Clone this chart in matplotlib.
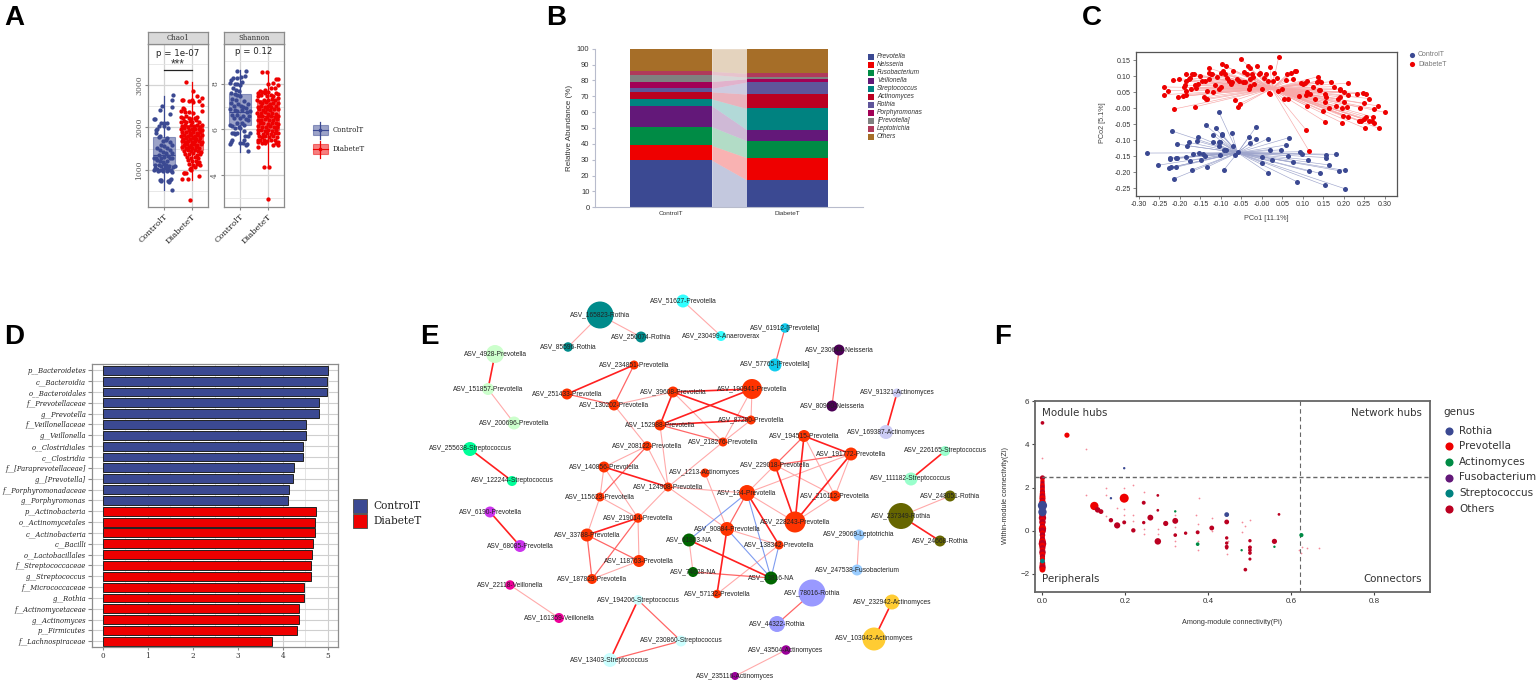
import numpy as np
import matplotlib
matplotlib.use('Agg')
import matplotlib.pyplot as plt
from matplotlib.patches import Rectangle

plt.rcParams['font.family'] = ['Liberation Sans', 'DejaVu Sans']

W, H = 1536, 682
BLUE = '#3B4992'
RED = '#EE0000'

# ---- panel A data: (jitter, value)
groups = ['ControlT', 'DiabeteT']
chao_control = [(0.31,2765),(0.3,2640),(-0.06,2500),(-0.15,2420),(0.28,2480),(0.2,2310),(-0.36,2210),(-0.33,2200),(-0.2,2030),
    (-0.25,1960),(-0.3,1950),(-0.1,2100),(-0.02,2110),(0.12,2110),(0.0,2040),(0.15,1980),(-0.28,1880),(-0.15,1800),(-0.2,1770),
    (0.12,1750),(0.05,1700),(-0.05,1680),(0.2,1650),(0.3,1600),(-0.1,1600),(0.0,1560),(-0.27,1520),(0.1,1520),(0.22,1470),
    (-0.15,1460),(-0.05,1420),(0.05,1400),(0.28,1400),(-0.2,1350),(0.15,1340),(-0.35,1280),(-0.3,1290),(-0.1,1280),(0.0,1300),
    (0.2,1280),(0.3,1290),(-0.25,1230),(-0.15,1210),(-0.05,1190),(0.1,1210),(-0.32,1120),(-0.2,1130),(-0.12,1100),(0,1150),
    (0.07,1120),(0.18,1100),(0.33,1080),(0.38,1090),(-0.33,1040),(-0.25,1030),(-0.35,990),(-0.15,1010),(-0.05,1020),(0.05,1040),
    (0.15,1020),(0.25,1000),(0.3,960),(-0.22,980),(-0.05,980),(0.1,970),(0.2,990),(-0.15,770),(-0.12,750),(-0.1,760),(0.15,750),
    (0.2,760),(0.25,780),(0.18,730),(0.3,540)]
chao_diabete = [(-0.2,3060),(0.05,2860),(0.2,2740),(0.38,2690),(-0.35,2640),(-0.32,2640),(-0.1,2620),(0.0,2640),(0.05,2600),
    (0.25,2620),(0.38,2520),(-0.33,2450),(-0.27,2430),(-0.38,2380),(-0.25,2370),(-0.1,2360),(0.05,2350),(0.35,2380),(-0.4,2250),
    (-0.33,2220),(-0.22,2260),(-0.12,2230),(-0.03,2210),(0.1,2230),(0.2,2240),(-0.38,2130),(-0.3,2160),(-0.2,2130),(-0.08,2150),
    (0.02,2120),(0.14,2170),(0.26,2130),(0.36,2060),(-0.36,2040),(-0.25,2060),(-0.15,2020),(-0.03,2050),(0.08,2030),(0.2,2060),
    (0.3,2000),(-0.39,1960),(-0.28,1980),(-0.12,1950),(0.0,1970),(0.12,1960),(0.24,1970),(0.37,1940),(-0.34,1890),(-0.22,1900),
    (-0.08,1880),(0.05,1900),(0.18,1880),(0.3,1900),(-0.39,1800),(-0.27,1830),(-0.15,1810),(-0.02,1820),(0.1,1800),(0.22,1830),
    (0.36,1820),(-0.33,1740),(-0.2,1760),(-0.08,1730),(0.04,1750),(0.16,1740),(0.29,1750),(-0.37,1680),(-0.26,1670),(-0.13,1690),
    (0.0,1660),(0.12,1680),(0.25,1690),(0.35,1660),(-0.3,1600),(-0.18,1610),(-0.05,1590),(0.07,1610),(0.2,1590),(0.32,1610),
    (-0.35,1530),(-0.22,1520),(-0.1,1540),(0.02,1510),(0.14,1530),(0.27,1520),(-0.28,1450),(-0.15,1460),(-0.02,1440),(0.1,1460),
    (0.22,1450),(0.33,1430),(-0.24,1380),(-0.1,1370),(0.04,1390),(0.17,1360),(0.28,1380),(-0.18,1300),(-0.04,1290),(0.1,1310),
    (0.22,1280),(-0.15,1230),(0.0,1220),(0.14,1210),(0.26,1200),(-0.1,1140),(0.03,1130),(0.2,1150),(0.28,1120),(-0.05,1060),
    (0.1,1080),(-0.08,1020),(-0.02,1000),(-0.3,920),(-0.27,920),(-0.2,930),(-0.35,800),(-0.15,780),(0.25,870),(-0.07,300)]
shannon_control = [(-0.1,8.55),(0.2,8.55),(0.17,8.35),(0.02,8.3),(-0.25,8.25),(-0.12,8.25),(-0.38,8.05),(-0.32,8.15),(0.05,8.1),
    (-0.2,8.0),(-0.1,8.0),(-0.02,7.95),(-0.27,7.8),(-0.15,7.75),(-0.05,7.7),(-0.32,7.6),(-0.2,7.55),(-0.1,7.5),(0.0,7.45),
    (-0.3,7.35),(-0.15,7.3),(0.15,7.25),(0.3,7.1),(-0.33,7.15),(-0.22,7.05),(-0.08,7.1),(0.02,7.05),(0.12,7.0),(0.22,6.95),
    (-0.35,6.9),(-0.2,6.85),(-0.1,6.8),(0.05,6.85),(0.25,6.75),(0.35,6.8),(-0.3,6.65),(-0.12,6.65),(0.1,6.6),(0.33,6.6),
    (-0.22,6.5),(0.0,6.5),(0.2,6.45),(0.3,6.4),(-0.37,6.2),(-0.28,6.15),(-0.1,6.3),(0.05,6.3),(0.15,6.2),(-0.05,6.1),(-0.2,6.05),
    (0.0,6.05),(-0.3,5.85),(-0.22,5.85),(-0.2,5.82),(-0.13,5.85),(0.15,5.95),(0.35,5.85),(0.18,5.7),(0.28,5.7),(0.14,5.55),
    (-0.3,5.55),(-0.32,5.45),(-0.36,5.35),(0.1,5.4),(0.22,5.3),(0.25,5.38),(0.0,5.4),(0.3,5.05)]
shannon_diabete = [(-0.2,8.5),(-0.05,8.5),(0.3,8.2),(0.35,8.2),(0.2,8.05),(0.02,8.0),(0.38,7.95),(-0.1,7.75),(0.12,7.8),(0.25,7.8),
    (-0.3,7.7),(-0.37,7.6),(-0.22,7.65),(-0.12,7.6),(0.0,7.65),(0.3,7.6),(0.38,7.55),(-0.34,7.45),(-0.25,7.5),(-0.05,7.45),(0.1,7.5),
    (0.2,7.45),(0.35,7.4),(-0.38,7.3),(-0.15,7.3),(0.02,7.3),(0.14,7.32),(0.27,7.28),(-0.3,7.2),(-0.2,7.15),(-0.08,7.2),(0.06,7.12),
    (0.2,7.15),(0.36,7.15),(-0.37,7.0),(-0.24,7.02),(-0.12,7.0),(0.0,7.05),(0.12,7.0),(0.28,7.03),(-0.32,6.88),(-0.18,6.85),(-0.05,6.9),
    (0.08,6.85),(0.22,6.88),(0.35,6.9),(-0.38,6.72),(-0.26,6.72),(-0.12,6.75),(0.02,6.7),(0.16,6.72),(0.3,6.7),(-0.32,6.58),(-0.2,6.6),
    (-0.05,6.55),(0.1,6.58),(0.24,6.55),(0.37,6.6),(-0.37,6.42),(-0.24,6.4),(-0.1,6.45),(0.04,6.42),(0.18,6.4),(0.32,6.45),(-0.3,6.28),
    (-0.16,6.3),(0.0,6.25),(0.14,6.28),(0.28,6.3),(0.38,6.25),(-0.35,6.15),(-0.22,6.12),(-0.06,6.1),(0.08,6.15),(0.22,6.12),(0.34,6.1),
    (-0.37,5.98),(-0.26,5.98),(-0.12,5.95),(0.02,5.98),(0.15,5.95),(0.3,5.98),(-0.36,5.85),(-0.18,5.82),(-0.05,5.85),(0.1,5.8),(0.25,5.85),
    (0.37,5.85),(-0.33,5.7),(-0.22,5.68),(-0.1,5.7),(0.04,5.65),(0.18,5.7),(0.32,5.65),(-0.37,5.55),(-0.28,5.55),(-0.14,5.55),(-0.05,5.5),
    (0.12,5.55),(0.26,5.55),(-0.36,5.45),(-0.2,5.42),(-0.1,5.42),(0.35,5.45),(0.3,5.4),(-0.35,5.25),(0.17,5.3),(0.37,5.32),(-0.15,4.35),
    (0.05,4.35),(0.0,2.93)]
# whislo, q1, med, q3, whishi
chao_box = [(540, 1130, 1360, 1773, 2750), (770, 1480, 1800, 2060, 3060)]
shannon_box = [(5.0, 6.19, 6.78, 7.54, 8.62), (4.32, 5.99, 6.57, 7.29, 8.52)]

# ---- panel B data
genera = ['Prevotella', 'Neisseria', 'Fusobacterium', 'Veillonella', 'Streptococcus', 'Actinomyces', 'Rothia',
          'Porphyromonas', '[Prevotella]', 'Leptotrichia', 'Others']
abund_control = [29.7, 9.3, 11.8, 13.2, 4.3, 4.5, 2.2, 4.3, 4.4, 2.0, 14.3]
abund_diabete = [17.3, 14.0, 10.7, 7.0, 13.3, 9.1, 7.6, 2.0, 1.0, 2.5, 15.5]
genus_colors = ['#3B4992', '#EE0000', '#008B45', '#631879', '#008280', '#BB0021', '#5F559B', '#A20056', '#808180',
                '#B03A5B', '#A66E28']

# ---- panel C data
pcoa_control = [(-0.105,-0.012),(-0.137,-0.053),(-0.113,-0.063),(-0.014,-0.058),(-0.220,-0.071),(-0.120,-0.083),(-0.098,-0.080),
    (-0.098,-0.084),(-0.073,-0.078),(-0.155,-0.089),(-0.032,-0.090),(-0.015,-0.095),(0.015,-0.095),(0.066,-0.092),(-0.159,-0.102),
    (-0.177,-0.107),(-0.182,-0.117),(-0.120,-0.107),(-0.104,-0.106),(-0.102,-0.105),(-0.105,-0.119),(-0.070,-0.118),(-0.028,-0.108),
    (0.059,-0.115),(0.020,-0.129),(0.046,-0.130),(-0.093,-0.130),(-0.088,-0.132),(-0.207,-0.112),(-0.280,-0.140),(-0.169,-0.142),
    (-0.154,-0.139),(-0.144,-0.144),(-0.138,-0.150),(-0.186,-0.151),(-0.224,-0.155),(-0.224,-0.158),(-0.209,-0.155),(-0.206,-0.157),
    (-0.102,-0.146),(-0.066,-0.145),(-0.058,-0.136),(0.001,-0.151),(0.065,-0.148),(0.093,-0.136),(0.099,-0.143),(0.156,-0.146),
    (0.157,-0.154),(0.182,-0.144),(-0.176,-0.164),(-0.149,-0.163),(-0.253,-0.178),(-0.226,-0.186),(-0.223,-0.185),(-0.209,-0.184),
    (-0.134,-0.184),(-0.170,-0.192),(-0.093,-0.193),(0,-0.170),(0.024,-0.162),(0.077,-0.169),(0.112,-0.161),(0.163,-0.177),
    (0.114,-0.197),(0.141,-0.203),(0.188,-0.195),(0.202,-0.194),(0.015,-0.202),(-0.214,-0.220),(0.085,-0.229),(0.154,-0.241),(0.202,-0.251)]
pcoa_diabete = [(-0.24,0.042),(-0.238,0.066),(-0.229,0.055),(-0.218,0.088),(-0.204,0.036),(-0.202,0.092),(-0.192,0.038),(-0.186,0.042),
    (-0.185,0.053),(-0.19,0.065),(-0.187,0.072),(-0.185,0.085),(-0.184,0.105),(-0.178,0.09),(-0.175,0.095),(-0.174,0.06),(-0.17,0.108),
    (-0.165,0.105),(-0.163,0.072),(-0.16,0.062),(-0.155,0.075),(-0.152,0.10),(-0.146,0.085),(-0.14,0.085),(-0.142,0.035),(-0.137,0.03),
    (-0.133,0.027),(-0.134,0.053),(-0.128,0.09),(-0.129,0.125),(-0.125,0.107),(-0.13,0.11),(-0.121,0.108),(-0.12,0.05),(-0.115,0.073),
    (-0.11,0.098),(-0.105,0.06),(-0.1,0.065),(-0.1,0.11),(-0.098,0.137),(-0.095,0.115),(-0.09,0.105),(-0.088,0.13),(-0.084,0.095),
    (-0.08,0.085),(-0.075,0.075),(-0.072,0.08),(-0.07,0.115),(-0.065,0.025),(-0.06,0.09),(-0.056,0.085),(-0.057,0.005),(-0.054,0.014),
    (-0.05,0.152),(-0.046,0.08),(-0.044,0.112),(-0.04,0.08),(-0.036,0.105),(-0.033,0.13),(-0.03,0.125),(-0.032,0.06),(-0.03,0.07),
    (-0.028,0.09),(-0.025,0.105),(-0.022,0.098),(-0.02,0.075),(-0.012,0.132),(-0.007,0.105),(-0.004,0.11),(0.0,0.06),(0.005,0.095),
    (0.01,0.108),(0.014,0.085),(0.018,0.047),(0.021,0.127),(0.028,0.085),(0.03,0.11),(0.038,0.095),(0.041,0.158),(0.04,0.055),(0.05,0.06),
    (0.054,0.028),(0.06,0.088),(0.062,0.105),(0.065,0.029),(0.07,0.11),(0.075,0.09),(0.08,0.115),(0.083,0.116),(0.09,0.038),(0.095,0.078),
    (0.1,0.075),(0.105,0.078),(0.11,0.085),(0.11,0.05),(0.108,0.04),(0.11,0.007),(0.118,0.045),(0.125,0.065),(0.13,0.028),(0.135,0.083),
    (0.14,0.085),(0.136,0.098),(0.14,0.058),(0.145,0.08),(0.143,0.058),(0.15,-0.01),(0.155,-0.043),(0.155,0.045),(0.157,0.034),(0.155,0.02),
    (0.165,-0.001),(0.17,0.083),(0.175,0.067),(0.182,0.006),(0.185,0.03),(0.19,0.06),(0.19,0.035),(0.192,0.058),(0.195,0.002),(0.195,-0.045),
    (0.198,-0.025),(0.2,0.05),(0.2,0.02),(0.21,0.04),(0.21,0.078),(0.208,0.005),(0.21,-0.028),(0.233,0.045),(0.238,-0.04),(0.243,-0.04),
    (0.24,0.002),(0.25,-0.035),(0.255,-0.028),(0.248,0.048),(0.255,0.043),(0.25,0.015),(0.252,-0.063),(0.262,0.03),(0.262,-0.04),(0.27,-0.04),
    (0.272,-0.028),(0.273,-0.045),(0.275,-0.002),(0.283,0.007),(0.286,-0.063),(0.3,-0.013),(0.108,-0.068),(0.115,-0.133),(-0.215,-0.003),
    (-0.163,0.004),(0.02,0.045)]
centroid_control = (-0.059, -0.139)
centroid_diabete = (0.024, 0.061)

# ---- panel D data
lda_taxa = ['p__Bacteroidetes', 'c__Bacteroidia', 'o__Bacteroidales', 'f__Prevotellaceae', 'g__Prevotella', 'f__Veillonellaceae',
            'g__Veillonella', 'o__Clostridiales', 'c__Clostridia', 'f__[Paraprevotellaceae]', 'g__[Prevotella]',
            'f__Porphyromonadaceae', 'g__Porphyromonas', 'p__Actinobacteria', 'o__Actinomycetales', 'c__Actinobacteria',
            'c__Bacilli', 'o__Lactobacillales', 'f__Streptococcaceae', 'g__Streptococcus', 'f__Micrococcaceae', 'g__Rothia',
            'f__Actinomycetaceae', 'g__Actinomyces', 'p__Firmicutes', 'f__Lachnospiraceae']
lda_scores = [5.0, 4.98, 4.98, 4.80, 4.80, 4.53, 4.51, 4.45, 4.45, 4.25, 4.22, 4.14, 4.13,
              4.74, 4.73, 4.73, 4.67, 4.66, 4.63, 4.62, 4.48, 4.48, 4.36, 4.36, 4.33, 3.77]
lda_n_control = 13

# ---- panel E data: label, x, y, diameter, colour
PREV = '#FF3300'
net_nodes = [
    ('ASV_165823-Rothia', 600, 315, 27, '#008B8B'), ('ASV_250074-Rothia', 641, 337, 11, '#008B8B'),
    ('ASV_85596-Rothia', 568, 347, 9.5, '#008B8B'), ('ASV_51627-Prevotella', 683, 301, 13, '#33FFFF'),
    ('ASV_230499-Anaeroverax', 721, 336, 10, '#33FFFF'), ('ASV_61912-[Prevotella]', 785, 328, 9.5, '#11CCEE'),
    ('ASV_57765-[Prevotella]', 775, 365, 13, '#11CCEE'), ('ASV_230644-Neisseria', 839, 350, 11, '#4B0055'),
    ('ASV_80950-Neisseria', 832, 406, 11, '#4B0055'), ('ASV_91321-Actinomyces', 897, 393, 9, '#CCCCF5'),
    ('ASV_169387-Actinomyces', 886, 432, 14, '#CCCCF5'), ('ASV_226165-Streptococcus', 945, 451, 10, '#99FFCC'),
    ('ASV_111182-Streptococcus', 911, 479, 13, '#99FFCC'), ('ASV_4928-Prevotella', 495, 354, 18, '#CCFFCC'),
    ('ASV_151857-Prevotella', 488, 389, 12, '#CCFFCC'), ('ASV_200696-Prevotella', 514, 423, 13, '#CCFFCC'),
    ('ASV_255638-Streptococcus', 470, 449, 14, '#00FF99'), ('ASV_122244-Streptococcus', 512, 481, 10, '#00FF99'),
    ('ASV_6190-Prevotella', 490, 512, 11, '#CC33EE'), ('ASV_68085-Prevotella', 520, 546, 12, '#CC33EE'),
    ('ASV_22118-Veillonella', 510, 585, 9.5, '#EE0099'), ('ASV_161359-Veillonella', 559, 618, 10, '#EE0099'),
    ('ASV_194206-Streptococcus', 638, 600, 10, '#CCFFFF'), ('ASV_230860-Streptococcus', 681, 641, 11, '#CCFFFF'),
    ('ASV_13403-Streptococcus', 610, 660, 14, '#CCFFFF'), ('ASV_43504-Actinomyces', 786, 650, 9.5, '#990099'),
    ('ASV_235116-Actinomyces', 735, 676, 8, '#990099'), ('ASV_44322-Rothia', 777, 624, 16, '#9999FF'),
    ('ASV_78016-Rothia', 812, 593, 27, '#9999FF'), ('ASV_232942-Actinomyces', 892, 602, 15, '#FFCC33'),
    ('ASV_103042-Actinomyces', 874, 639, 23, '#FFCC33'), ('ASV_29069-Leptotrichia', 859, 535, 11, '#99CCFF'),
    ('ASV_247538-Fusobacterium', 857, 570, 11, '#99CCFF'), ('ASV_237349-Rothia', 901, 516, 26, '#666600'),
    ('ASV_248051-Rothia', 950, 496, 11, '#666600'), ('ASV_24668-Rothia', 940, 541, 11, '#666600'),
    ('ASV_234851-Prevotella', 634, 365, 9, PREV), ('ASV_251433-Prevotella', 567, 394, 11, PREV),
    ('ASV_130202-Prevotella', 614, 405, 11, PREV), ('ASV_39608-Prevotella', 673, 392, 11, PREV),
    ('ASV_190941-Prevotella', 752, 389, 20, PREV), ('ASV_87280-Prevotella', 751, 420, 9, PREV),
    ('ASV_152988-Prevotella', 660, 425, 11, PREV), ('ASV_218276-Prevotella', 723, 442, 9, PREV),
    ('ASV_208122-Prevotella', 647, 446, 9.5, PREV), ('ASV_140856-Prevotella', 604, 467, 11, PREV),
    ('ASV_194515-Prevotella', 804, 436, 12, PREV), ('ASV_191772-Prevotella', 851, 454, 13, PREV),
    ('ASV_229018-Prevotella', 775, 465, 13, PREV), ('ASV_1213-Actinomyces', 705, 473, 9, PREV),
    ('ASV_124908-Prevotella', 668, 487, 9, PREV), ('ASV_115623-Prevotella', 600, 497, 9, PREV),
    ('ASV_219014-Prevotella', 638, 518, 9.5, PREV), ('ASV_33788-Prevotella', 587, 535, 13, PREV),
    ('ASV_118763-Prevotella', 639, 561, 12, PREV), ('ASV_187829-Prevotella', 592, 579, 10, PREV),
    ('ASV_124-Prevotella', 747, 493, 16, PREV), ('ASV_216112-Prevotella', 835, 496, 11, PREV),
    ('ASV_228243-Prevotella', 795, 522, 21, PREV), ('ASV_90884-Prevotella', 727, 529, 14, PREV),
    ('ASV_138342-Prevotella', 779, 545, 9, PREV), ('ASV_57132-Prevotella', 717, 594, 8.5, PREV),
    ('ASV_61803-NA', 689, 540, 13, '#006600'), ('ASV_74628-NA', 693, 572, 10, '#006600'), ('ASV_13816-NA', 771, 578, 13, '#006600'),
]
net_strong = [(234851,251433),(91321,169387),(226165,111182),(4928,151857),(255638,122244),(6190,68085),(194206,13403),
    (232942,103042),(237349,24668),(39608,190941),(39608,152988),(39608,87280),(152988,190941),(152988,87280),
    (140856,124908),(33788,219014),(194515,191772),(194515,228243),(191772,228243),(229018,228243),(124,138342),(90884,57132),
    (61803,13816)]
net_medium = [(61912,57765),(230644,80950),(230860,13403),(44322,78016),(194206,230860),(234851,130202),(251433,130202),(152988,218276),
    (33788,118763),(33788,187829),(219014,187829),(194515,229018),(191772,229018),(124,90884),(74628,13816),(208122,115623)]
net_light = [(165823,250074),(165823,85596),(51627,230499),(151857,200696),(22118,161359),(43504,235116),(29069,247538),(237349,248051),
    (130202,39608),(130202,208122),(39608,218276),(152988,124908),(190941,87280),(190941,218276),(87280,218276),(218276,124908),
    (208122,124908),(208122,140856),(140856,115623),(115623,219014),(124908,219014),(140856,219014),(115623,33788),(219014,118763),
    (118763,187829),(124908,124),(124908,90884),(1213,90884),(194515,216112),(191772,124),(191772,216112),(229018,124),(229018,216112),
    (124,228243),(90884,138342),(138342,57132),(61803,74628),(216112,228243)]
net_negative = [(124,61803),(124,13816),(90884,13816),(138342,13816)]

# ---- panel F data
zipi_genus = ['Rothia', 'Prevotella', 'Actinomyces', 'Fusobacterium', 'Streptococcus', 'Others']
zipi_colors = ['#3B4992', '#EE0000', '#008B45', '#631879', '#008280', '#BB0021']
# Zi of the peripheral column, Pi = 0
zi_column = [2.45, 2.3, 2.2, 2.1, 2.0, 1.9, 1.8, 1.7, 1.6, 1.5, 1.4, 1.3, 1.2, 1.1, 1.0, 0.9, 0.8, 0.7, 0.6, 0.5, 0.4, 0.3, 0.2,
             0.1, 0.0, -0.1, -0.2, -0.3, -0.4, -0.5, -0.6, -0.7, -0.8, -0.9, -1.0, -1.1, -1.2, -1.3, -1.5, -1.6, -1.7, -1.8]
zi_column_size = [14, 10, 10, 12, 12, 12, 14, 16, 18, 20, 16, 24, 28, 22, 18, 16, 24, 18, 28, 16, 22, 14, 18, 28, 24, 14, 16, 12,
                  16, 24, 30, 22, 18, 16, 22, 16, 14, 14, 16, 18, 22, 18]
# Pi, Zi, size, genus index
zipi_large = [(0.197,1.51,42,1),(0.125,1.15,36,1),(0.059,4.43,14,1),(0,5.0,7,5),(0.133,0.97,16,5),(0.141,0.89,12,5),(0.165,0.49,10,5),
    (0.18,0.25,20,5),(0.197,0.39,8,5),(0.219,0.02,10,5),(0.244,1.3,8,5),(0.26,0.61,18,5),(0.244,0.38,6,5),(0.278,-0.49,22,5),(0.297,0.34,14,5),
    (0.32,0.46,18,5),(0.32,-0.2,7,5),(0.345,-0.11,6,5),(0.374,-0.07,8,5),(0.408,0.13,12,5),(0.444,0.41,12,5),(0.444,0.75,12,0),(0.444,-0.33,6,5),
    (0.444,-0.57,6,5),(0.444,-0.74,8,5),(0.444,-0.8,5,5),(0.5,-0.46,6,5),(0.5,-0.77,8,5),(0.5,-0.9,7,5),(0.5,-1.03,7,5),(0.5,-1.31,5,5),
    (0.489,-1.8,7,5),(0.559,-0.49,14,5),(0.57,0.76,4,5),(0.624,-0.2,9,2),(0.374,-0.62,7,2),(0.278,1.64,4,5),(0.278,0.95,4,5),(0,1.17,44,0),(0,0.87,36,0),(0,-1.4,12,4),
    (0.197,2.9,3,0),(0.165,1.51,3,0),(0.32,0.9,3,2),(0.48,-0.9,3,2),(0.559,-0.74,3,2)]
zipi_small = [(0.104,3.8),(0,3.36),(0.104,1.67),(0.152,1.97),(0.152,1.64),(0.219,2.13),(0.197,1.97),(0.244,1.79),(0.18,1.07),(0.197,1.03),
    (0.197,0.74),(0.219,0.74),(0.219,0.44),(0.244,0.08),(0.244,-0.15),(0.278,0.08),(0.278,-0.16),(0.32,0.74),(0.32,0.16),(0.32,-0.49),
    (0.32,-0.69),(0.369,0.74),(0.378,1.51),(0.374,0.33),(0.374,-0.49),(0.374,-0.9),(0.408,0.61),(0.408,0),(0.48,0.41),(0.48,-0.05),
    (0.489,0.2),(0.5,0.52),(0.448,-0.49),(0.444,-1.07),(0.619,-0.9),(0.624,-1.03),(0.638,-0.79),(0.666,-0.79),(0.626,-0.74),(0.152,0.7)]


fig = plt.figure(figsize=(W / 100, H / 100), dpi=100)


def panel(x0, y0, x1, y1):
    return fig.add_axes([x0 / W, 1 - y1 / H, (x1 - x0) / W, (y1 - y0) / H])


# overlay in picture pixels for letters and free legends
lay = panel(0, 0, W, H)
lay.set_xlim(0, W)
lay.set_ylim(H, 0)
lay.axis('off')
lay.set_zorder(5)
for letter, lx, ly in [('A', 4, 25), ('B', 546, 25), ('C', 1082, 25), ('D', 4, 344), ('E', 420, 344), ('F', 994, 344)]:
    lay.text(lx, ly, letter, fontsize=20, fontweight='bold', color='black', va='baseline')


# ---- A
def alpha_panel(box, title, points, stats, ylim, ticks, minors, ptext, py):
    ax = panel(*box)
    ax.set_xlim(0.42, 2.58)
    ax.set_ylim(*ylim)
    ax.set_axisbelow(True)
    ax.grid(True, color='#D4D4D4', lw=0.9)
    ax.set_yticks(ticks)
    ax.set_yticks(minors, minor=True)
    ax.grid(True, which='minor', axis='y', color='#E4E4E4', lw=0.6)
    ax.tick_params(which='minor', length=0)
    ax.set_xticks([1, 2], groups, rotation=45, ha='right', rotation_mode='anchor', family='DejaVu Serif', fontsize=6, color='#222222')
    ax.tick_params(axis='y', labelsize=5.5, labelrotation=90, length=2, labelcolor='#555555', color='#888888', pad=1.5)
    ax.tick_params(axis='x', length=2, color='#888888', pad=2)
    for lab in ax.get_yticklabels():
        lab.set_family('DejaVu Serif')
        lab.set_va('center')
    for s in ax.spines.values():
        s.set_color('#8C8C8C')
        s.set_linewidth(0.9)
    for pos, col, pts, st in zip([1, 2], [BLUE, RED], points, stats):
        stat = dict(whislo=st[0], q1=st[1], med=st[2], q3=st[3], whishi=st[4], fliers=[])
        ax.bxp([stat], positions=[pos], widths=0.77, patch_artist=True, showcaps=False, showfliers=False,
               boxprops=dict(facecolor=col, edgecolor=col, alpha=0.5, lw=0.8),
               whiskerprops=dict(color=col, lw=0.9), medianprops=dict(color=col, lw=0.9), manage_ticks=False)
        ax.scatter([pos + p[0] for p in pts], [p[1] for p in pts], s=9.5, color=col, lw=0, zorder=3)
    strip = panel(box[0], box[1] - 12, box[2], box[1])
    strip.set_facecolor('#D9D9D9')
    strip.set_xticks([])
    strip.set_yticks([])
    for s in strip.spines.values():
        s.set_color('#8C8C8C')
        s.set_linewidth(0.9)
    strip.text(0.5, 0.48, title, ha='center', va='center', family='DejaVu Serif', fontsize=5, color='#333333', transform=strip.transAxes)
    lay.text((box[0] + box[2]) / 2, py, ptext, ha='center', va='center', fontsize=6.2, color='#222222', family='DejaVu Sans')
    return ax


ax_a1 = alpha_panel((148, 44, 208, 207), 'Chao1', [chao_control, chao_diabete], chao_box, (133, 3960),
                    [1000, 2000, 3000], [500, 1500, 2500, 3500], 'p = 1e-07', 53)
ax_a1.plot([1, 2], [3344, 3344], color='#222222', lw=0.9)
ax_a1.text(1.5, 3470, '***', ha='center', va='center', fontsize=8.5, color='#333333')
alpha_panel((224, 44, 284, 207), 'Shannon', [shannon_control, shannon_diabete], shannon_box, (2.6, 9.75),
            [4, 6, 8], [3, 5, 7, 9], 'p = 0.12', 51)
for col, name, ly in [(BLUE, 'ControlT', 130), (RED, 'DiabeteT', 149)]:
    lay.plot([320, 320], [ly - 8.5, ly + 8.5], color=col, lw=0.9)
    lay.add_patch(Rectangle((313, ly - 5), 14.5, 10, facecolor=col, edgecolor=col, alpha=0.5, lw=0.8))
    lay.plot([313, 327.5], [ly, ly], color=col, lw=0.8)
    lay.scatter([320], [ly], s=7, color=col, lw=0)
    lay.text(333, ly, name, family='DejaVu Serif', fontsize=5, va='center', color='#222222')

# ---- B
ax_b = panel(595, 48.7, 863, 207.3)
ax_b.set_xlim(-0.653, 1.65)
ax_b.set_ylim(0, 100)
bottom_c = 0.0
bottom_d = 0.0
for name, col, vc, vd in zip(genera, genus_colors, abund_control, abund_diabete):
    ax_b.bar([0, 1], [vc, vd], bottom=[bottom_c, bottom_d], width=0.7, color=col, lw=0)
    ax_b.fill_between([0.35, 0.65], [bottom_c, bottom_d], [bottom_c + vc, bottom_d + vd], color=col, alpha=0.3, lw=0)
    bottom_c += vc
    bottom_d += vd
ax_b.set_yticks(range(0, 101, 10))
ax_b.set_xticks([0, 1], groups)
ax_b.tick_params(axis='y', labelsize=5.5, length=2.5, color='#B8BCCC', labelcolor='#333333', pad=1.5)
ax_b.tick_params(axis='x', labelsize=4.6, length=0, labelcolor='#333333', pad=2.5)
ax_b.set_ylabel('Relative Abundance (%)', fontsize=5.8, color='#333333', labelpad=3)
for s in ['top', 'right']:
    ax_b.spines[s].set_visible(False)
for s in ['left', 'bottom']:
    ax_b.spines[s].set_color('#B8BCCC')
    ax_b.spines[s].set_linewidth(0.8)
for i, (name, col) in enumerate(zip(genera, genus_colors)):
    ly = 57 + i * 7.97
    lay.add_patch(Rectangle((868, ly - 3), 6, 6, facecolor=col, lw=0))
    lay.text(877, ly, name, fontsize=4.7, style='italic', va='center', color='#333333')

# ---- C
ax_c = panel(1135.7, 51.7, 1397, 195.7)
ax_c.set_xlim(-0.308, 0.33)
ax_c.set_ylim(-0.273, 0.176)
for pts, cen, col, lc in [(pcoa_control, centroid_control, BLUE, '#9EA5CC'), (pcoa_diabete, centroid_diabete, RED, '#F7A8A8')]:
    for p in pts:
        ax_c.plot([p[0], cen[0]], [p[1], cen[1]], color=lc, lw=0.45, zorder=1)
    ax_c.scatter([p[0] for p in pts], [p[1] for p in pts], s=13, color=col, lw=0, zorder=3)
ax_c.set_xticks(np.round(np.arange(-0.30, 0.31, 0.05), 2))
ax_c.set_xticklabels([f'{v:.2f}' for v in np.arange(-0.30, 0.31, 0.05)])
ax_c.set_yticks(np.round(np.arange(-0.25, 0.16, 0.05), 2))
ax_c.set_yticklabels([f'{v:.2f}' for v in np.arange(-0.25, 0.16, 0.05)])
ax_c.tick_params(labelsize=5.1, length=2, width=0.5, color='#555555', labelcolor='#333333', pad=1.5)
for s in ax_c.spines.values():
    s.set_color('#555555')
    s.set_linewidth(0.9)
lay.text(1266, 218, 'PCo1 [11.1%]', fontsize=5.2, ha='center', va='center', color='#444444')
lay.text(1103, 123, 'PCo2 [5.1%]', fontsize=5.2, ha='center', va='center', rotation=90, color='#444444')
for col, name, ly in [(BLUE, 'ControlT', 55), (RED, 'DiabeteT', 64)]:
    lay.scatter([1412], [ly], s=14, color=col, lw=0)
    lay.text(1418, ly, name, fontsize=5, va='center', color='#777777')

# ---- D
ax_d = panel(91.7, 364.3, 338.3, 647.3)
ypos = np.arange(len(lda_taxa))
dcols = [BLUE] * lda_n_control + [RED] * (len(lda_taxa) - lda_n_control)
ax_d.set_axisbelow(True)
ax_d.grid(True, color='#CFCFCF', lw=0.8)
ax_d.set_xticks(np.arange(0.5, 5, 1), minor=True)
ax_d.grid(True, which='minor', axis='x', color='#E0E0E0', lw=0.6)
ax_d.barh(ypos, lda_scores, height=0.82, color=dcols, edgecolor='#222222', lw=0.7)
ax_d.set_xlim(-0.244, 5.237)
ax_d.set_ylim(len(lda_taxa) - 0.45, -0.55)
ax_d.set_yticks(ypos, lda_taxa)
ax_d.set_xticks(range(6))
ax_d.tick_params(which='minor', length=0)
ax_d.tick_params(axis='y', labelsize=4.9, length=3, color='#888888', labelcolor='#222222', pad=1)
ax_d.tick_params(axis='x', labelsize=5.2, length=2, color='#888888', labelcolor='#333333', pad=1.5)
for lab in ax_d.get_yticklabels():
    lab.set_family('DejaVu Serif')
    lab.set_style('italic')
for lab in ax_d.get_xticklabels():
    lab.set_family('DejaVu Serif')
for s in ax_d.spines.values():
    s.set_color('#8C8C8C')
    s.set_linewidth(0.9)
for col, name, ly in [(BLUE, 'ControlT', 506), (RED, 'DiabeteT', 521)]:
    lay.add_patch(Rectangle((353, ly - 7), 14, 14, facecolor=col, edgecolor='#555555', lw=0.7))
    lay.text(373, ly, name, family='DejaVu Serif', fontsize=7.6, va='center', color='#222222')

# ---- E
ax_e = panel(420, 285, 980, 682)
ax_e.set_xlim(420, 980)
ax_e.set_ylim(682, 285)
ax_e.axis('off')
node_at = {int(n[0].split('-')[0][4:]): n for n in net_nodes}
for edges, col, lw in [(net_light, '#FFAAAA', 0.8), (net_medium, '#FF6666', 0.9), (net_strong, '#FF2020', 1.2), (net_negative, '#7F9CF0', 0.8)]:
    for a, b in edges:
        ax_e.plot([node_at[a][1], node_at[b][1]], [node_at[a][2], node_at[b][2]], color=col, lw=lw, zorder=1)
ax_e.scatter([n[1] for n in net_nodes], [n[2] for n in net_nodes], s=[(n[3] * 0.72) ** 2 for n in net_nodes],
             color=[n[4] for n in net_nodes], lw=0, zorder=2)
for n in net_nodes:
    ax_e.text(n[1], n[2], n[0], fontsize=4.8, ha='center', va='center', color='#222222', zorder=3)

# ---- F
ax_f = panel(1035, 401.3, 1429.6, 592)
ax_f.set_xlim(-0.018, 0.933)
ax_f.set_ylim(-2.836, 6)
ax_f.scatter([0] * len(zi_column), zi_column, s=zi_column_size,
             color=['#BB0021', RED] * (len(zi_column) // 2), lw=0, zorder=2)
ax_f.scatter([p[0] for p in zipi_large], [p[1] for p in zipi_large], s=[p[2] for p in zipi_large],
             color=[zipi_colors[p[3]] for p in zipi_large], lw=0, zorder=3)
ax_f.scatter([p[0] for p in zipi_small], [p[1] for p in zipi_small], s=1.6, color='#F48A9A', lw=0, zorder=2)
ax_f.axhline(2.5, color='#666666', lw=1, ls=(0, (3, 2)))
ax_f.axvline(0.62, color='#666666', lw=0.8, ls=(0, (4, 3)))
ax_f.set_xticks([0, 0.2, 0.4, 0.6, 0.8])
ax_f.set_yticks([-2, 0, 2, 4, 6])
ax_f.tick_params(labelsize=5.8, length=2, color='#444444', labelcolor='#333333', pad=2)
for s in ax_f.spines.values():
    s.set_color('#666666')
    s.set_linewidth(1.3)
for txt, tx, ty, ha in [('Module hubs', 0.0, 5.45, 'left'), ('Network hubs', 0.915, 5.45, 'right'),
                        ('Peripherals', 0.0, -2.25, 'left'), ('Connectors', 0.915, -2.25, 'right')]:
    ax_f.text(tx, ty, txt, fontsize=7.4, ha=ha, va='center', color='#333333', family='DejaVu Sans')
lay.text(1232, 623, 'Among-module connectivity(Pi)', fontsize=5.2, ha='center', va='center', color='#333333')
lay.text(1005.5, 496, 'Within-module connectivity(Zi)', fontsize=5.2, ha='center', va='center', rotation=90, color='#333333')
lay.text(1443, 412, 'genus', fontsize=7.5, va='center', color='#333333', family='DejaVu Sans')
for i, (name, col) in enumerate(zip(zipi_genus, zipi_colors)):
    ly = 430.7 + i * 15.6
    lay.scatter([1449], [ly], s=34, color=col, lw=0)
    lay.text(1459, ly, name, fontsize=7.5, va='center', color='#333333', family='DejaVu Sans')

fig.savefig('out.png', dpi=100)
